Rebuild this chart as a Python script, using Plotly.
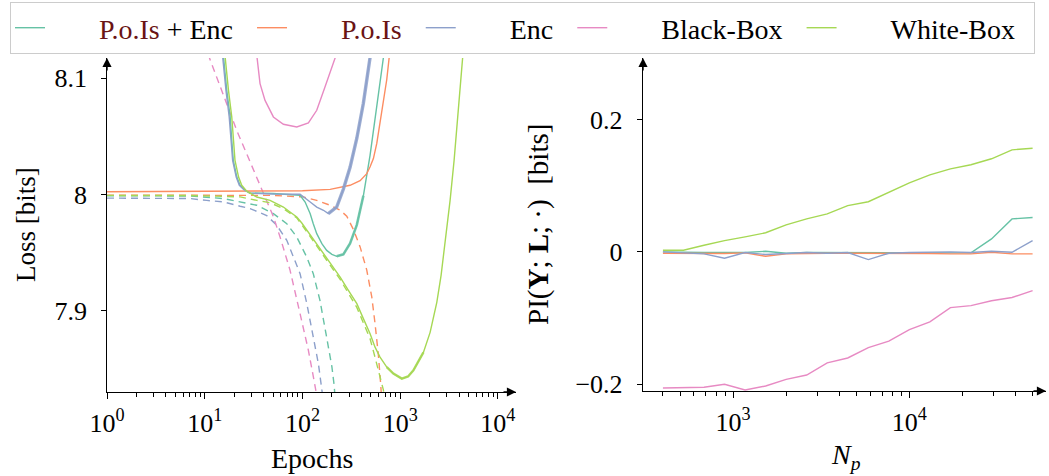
import plotly.graph_objects as go

W, H = 1049, 476
FONT = "Liberation Serif, serif"

TEAL = "#66c2a5"
ORANGE = "#fc8d62"
BLUE = "#8da0cb"
PINK = "#e78ac3"
GREEN = "#a6d854"
MAROON = "#6a1414"

SERIES_NAMES = [
    f'<span style="color:{MAROON}">P.o.Is</span> + Enc',
    f'<span style="color:{MAROON}">P.o.Is</span>',
    "Enc",
    "Black-Box",
    "White-Box",
]
SERIES_COLORS = [TEAL, ORANGE, BLUE, PINK, GREEN]

# ---- Left panel: loss curves (solid = test, dashed = train) ----
pois_enc_test_epochs = [14.3, 15.5, 16.8, 18.2, 18.9, 19.6, 21.3, 23.0, 25.9, 29.1, 50, 75,
                        94.5, 106.5, 120, 129, 140, 158, 177, 200, 224, 262, 307, 360, 420,
                        492, 576, 673, 729]
pois_enc_test_loss = [8.16, 8.12, 8.0897, 8.0668, 8.0467, 8.0295, 8.0151, 8.008, 8.0037,
                      8.0014, 8.001, 8.0003, 7.9994, 7.9936, 7.9836, 7.975, 7.9664, 7.9578,
                      7.952, 7.9486, 7.9469, 7.9486, 7.958, 7.974, 7.999, 8.034, 8.077, 8.118,
                      8.139]

pois_test_epochs = [1, 30, 100, 192, 307, 389, 455, 492, 532, 576, 622, 673, 729, 788]
pois_test_loss = [8.0025, 8.0028, 8.0033, 8.0045, 8.008, 8.012, 8.018, 8.024, 8.031, 8.044,
                  8.061, 8.081, 8.099, 8.125]

enc_test_epochs = [14.0, 15.2, 16.5, 17.8, 18.6, 19.3, 21.0, 22.6, 25.5, 29.1, 50, 94.5, 120,
                   140, 164, 184, 224, 262, 307, 360, 420, 492, 528]
enc_test_loss = [8.16, 8.12, 8.0897, 8.0668, 8.0467, 8.0295, 8.0151, 8.008, 8.0037, 8.0012,
                 8.0005, 8.0003, 7.9936, 7.9893, 7.9865, 7.9836, 7.9893, 8.0046, 8.0235,
                 8.0485, 8.0785, 8.1181, 8.137]

blackbox_test_epochs = [32, 34.1, 36.8, 41.4, 50.4, 63.8, 87.5, 115, 140, 170, 200, 221, 234]
blackbox_test_loss = [8.14, 8.12, 8.0955, 8.081, 8.0668, 8.0605, 8.0582, 8.0616, 8.0725,
                      8.0926, 8.11, 8.12, 8.135]

whitebox_test_epochs = [14.9, 16.1, 17.5, 18.9, 19.7, 20.4, 22.2, 23.9, 26.9, 30.3, 34.1, 46.6,
                        63.8, 74.6, 87.5, 98.4, 111, 134.6, 164, 200, 243, 295, 360, 420,
                        492, 553, 622, 729, 852, 1039, 1204, 1365, 1525, 1728, 2024, 2370,
                        2621, 2882, 3241, 3562, 3913, 4301, 4508]
whitebox_test_loss = [8.16, 8.12, 8.0897, 8.0668, 8.0467, 8.0295, 8.0151, 8.008, 8.003,
                      8.0005, 7.9979, 7.9951, 7.9893, 7.985, 7.9807, 7.9756, 7.9693, 7.9592,
                      7.9492, 7.9392, 7.9291, 7.9176, 7.9062, 7.8933, 7.8804, 7.8688, 7.8602,
                      7.8516, 7.846, 7.8417, 7.8436, 7.8488, 7.8557, 7.8643, 7.8815, 7.9073,
                      7.9306, 7.9581, 7.9951, 8.0295, 8.0725, 8.1138, 8.1328]

pois_enc_train_epochs = [1, 7.07, 15.5, 23, 34.1, 50.4, 69.1, 87.5, 111, 129, 151, 177, 200,
                         211, 218]
pois_enc_train_loss = [7.999, 7.9988, 7.9966, 7.9937, 7.9908, 7.9836, 7.975, 7.9635, 7.946,
                       7.932, 7.909, 7.877, 7.852, 7.836, 7.82]

pois_train_epochs = [1, 10, 50, 63.8, 102, 140, 192, 243, 284, 332, 389, 455, 512, 553, 598,
                     633, 650]
pois_train_loss = [7.9995, 7.9995, 7.9993, 7.9988, 7.998, 7.995, 7.9908, 7.9865, 7.9815,
                   7.970, 7.955, 7.935, 7.912, 7.889, 7.862, 7.836, 7.82]

enc_train_epochs = [1, 3.2, 7.07, 10.5, 15.5, 23, 29.1, 43.1, 54.6, 69.1, 80.7, 94.5, 111,
                    129, 145.5, 158, 165]
enc_train_loss = [7.997, 7.997, 7.9966, 7.995, 7.9937, 7.99, 7.988, 7.982, 7.9736, 7.9607,
                  7.946, 7.932, 7.906, 7.877, 7.8546, 7.832, 7.82]

blackbox_train_epochs = [8, 10.9, 13.3, 16.8, 21.3, 26.9, 34.1, 43.1, 50.4, 59, 74.6, 94.5,
                         115, 131.5, 145]
blackbox_train_loss = [8.15, 8.12, 8.101, 8.078, 8.055, 8.035, 8.015, 7.995, 7.981, 7.9635,
                       7.935, 7.8976, 7.866, 7.840, 7.82]

whitebox_train_epochs = [1, 7.07, 15.5, 23, 34.1, 46.6, 63.8, 87.5, 111, 164, 243, 360, 420,
                         492, 553, 622, 673, 700]
whitebox_train_loss = [7.9993, 7.9992, 7.9985, 7.998, 7.995, 7.993, 7.988, 7.98, 7.968, 7.948,
                       7.927, 7.903, 7.890, 7.876, 7.860, 7.843, 7.832, 7.82]

test_curves = [
    (pois_enc_test_epochs, pois_enc_test_loss),
    (pois_test_epochs, pois_test_loss),
    (enc_test_epochs, enc_test_loss),
    (blackbox_test_epochs, blackbox_test_loss),
    (whitebox_test_epochs, whitebox_test_loss),
]
train_curves = [
    (pois_enc_train_epochs, pois_enc_train_loss),
    (pois_train_epochs, pois_train_loss),
    (enc_train_epochs, enc_train_loss),
    (blackbox_train_epochs, blackbox_train_loss),
    (whitebox_train_epochs, whitebox_train_loss),
]
# stretches of the test curves where the epoch-to-epoch jitter thickens the line
# (series index, first point, last point, stroke width)
jitter_spans = [(0, 20, 24, 2.6), (2, 15, 21, 3.4), (4, 27, 33, 2.4)]

# ---- Right panel: PI versus number of samples ----
n_p = [400, 523, 684, 894, 1170, 1530, 2000, 2615, 3420, 4470, 5850, 7645, 10000, 13070,
       17090, 22350, 29230, 38220, 50000]
pi_pois_enc = [0.0, -0.001, -0.001, -0.001, -0.001, 0.001, -0.002, -0.001, -0.001, -0.001,
               -0.001, -0.001, -0.001, -0.001, -0.001, -0.0015, 0.0197, 0.050, 0.052]
pi_pois = [-0.002, -0.0025, -0.0025, -0.0025, -0.0015, -0.0066, -0.003, -0.002, -0.002, -0.002,
           -0.002, -0.002, -0.0015, -0.0025, -0.003, -0.003, -0.0005, -0.003, -0.003]
pi_enc = [0.0, -0.0015, -0.003, -0.0095, -0.001, -0.004, -0.002, -0.0008, -0.002, -0.001,
          -0.0116, -0.002, -0.001, 0.0, 0.0, -0.001, 0.001, -0.0005, 0.0172]
pi_blackbox = [-0.206, -0.206, -0.205, -0.2005, -0.209, -0.203, -0.193, -0.1864, -0.168,
               -0.1606, -0.145, -0.135, -0.1177, -0.106, -0.0843, -0.0813, -0.074, -0.069,
               -0.0586]
pi_whitebox = [0.0025, 0.0025, 0.010, 0.017, 0.0227, 0.029, 0.041, 0.050, 0.0576, 0.070, 0.076,
               0.090, 0.1045, 0.1167, 0.1258, 0.132, 0.141, 0.1545, 0.157]
pi_series = [pi_pois_enc, pi_pois, pi_enc, pi_blackbox, pi_whitebox]

# ---- Tick labels ----
epoch_ticks = [1, 10, 100, 1000, 10000]
epoch_ticktext = ["10<sup>0</sup>", "10<sup>1</sup>", "10<sup>2</sup>", "10<sup>3</sup>",
                  "10<sup>4</sup>"]
loss_ticks = [7.9, 8.0, 8.1]
loss_ticktext = ["7.9", "8", "8.1"]
np_ticks = [1000, 10000]
np_ticktext = ["10<sup>3</sup>", "10<sup>4</sup>"]
pi_ticks = [-0.2, 0.0, 0.2]
pi_ticktext = ["\u22120.2", "0", "0.2"]

fig = go.Figure()

LW = 1.4
for (ex, ey), color, name in zip(train_curves, SERIES_COLORS, SERIES_NAMES):
    fig.add_trace(go.Scatter(x=ex, y=ey, mode="lines", xaxis="x", yaxis="y",
                             line=dict(color=color, width=LW, dash="7px,5px"),
                             legendgroup=name, showlegend=False, hoverinfo="skip"))
for (ex, ey), color, name in zip(test_curves, SERIES_COLORS, SERIES_NAMES):
    fig.add_trace(go.Scatter(x=ex, y=ey, mode="lines", xaxis="x", yaxis="y",
                             line=dict(color=color, width=LW),
                             legendgroup=name, showlegend=False, hoverinfo="skip"))
for idx, i0, i1, lw in jitter_spans:
    ex, ey = test_curves[idx]
    fig.add_trace(go.Scatter(x=ex[i0:i1 + 1], y=ey[i0:i1 + 1], mode="lines",
                             xaxis="x", yaxis="y", opacity=0.85,
                             line=dict(color=SERIES_COLORS[idx], width=lw),
                             showlegend=False, hoverinfo="skip"))

# legend entries: wide gap between sample line and label
PAD_L = "\u00a0" * 7
PAD_R = "\u00a0" * 2
for vals, color, name in zip(pi_series, SERIES_COLORS, SERIES_NAMES):
    fig.add_trace(go.Scatter(x=n_p, y=vals, mode="lines", xaxis="x2", yaxis="y2",
                             line=dict(color=color, width=LW), name=PAD_L + name + PAD_R,
                             legendgroup=name, showlegend=True, hoverinfo="skip"))

tickfont = dict(family=FONT, size=26, color="black")

L_DOM_X = [107 / W, 516 / W]
L_DOM_Y = [1 - 392 / H, 1 - 58 / H]
R_DOM_X = [643 / W, 1046 / W]
R_DOM_Y = [1 - 391 / H, 1 - 58 / H]

L_XRANGE = [0, 4.185]
L_YRANGE = [7.8302, 8.1175]
R_XRANGE = [2.489, 4.775]
R_YRANGE = [-0.2106, 0.2936]

epoch_minor = [m * 10 ** k for k in range(4) for m in range(2, 10)]
np_minor = [m * 10 ** k for k in range(2, 5) for m in range(2, 10)
            if 10 ** R_XRANGE[0] < m * 10 ** k < 10 ** R_XRANGE[1]]

XLABEL_STANDOFF = 2


def base_axis(**kw):
    d = dict(showgrid=False, zeroline=False, showline=False, ticks="outside",
             tickcolor="black", tickwidth=1.1, tickfont=tickfont, linecolor="black",
             automargin=False)
    d.update(kw)
    return d


def minor_ticks(vals, side):
    return dict(tickmode="array", tickvals=vals, ticks=side, ticklen=3.5,
                tickcolor="black", tickwidth=1, showgrid=False)


fig.update_layout(
    width=W, height=H,
    margin=dict(l=0, r=0, t=0, b=0, autoexpand=False),
    paper_bgcolor="white", plot_bgcolor="white",
    font=dict(family=FONT, color="black"),
    showlegend=True,
    legend=dict(orientation="h", x=10 / W, y=1 - 2 / H, xanchor="left", yanchor="top",
                bgcolor="white", bordercolor="#cccccc", borderwidth=1,
                font=dict(family=FONT, size=28, color="black"),
                itemwidth=30, tracegroupgap=0),
    xaxis=base_axis(type="log", domain=L_DOM_X, range=L_XRANGE, anchor="y",
                    showline=True, linewidth=1.4,
                    tickmode="array", tickvals=epoch_ticks, ticktext=epoch_ticktext,
                    ticklen=6, ticklabelstandoff=XLABEL_STANDOFF,
                    minor=minor_ticks(epoch_minor, "outside")),
    xaxis3=base_axis(type="log", range=L_XRANGE, anchor="y", overlaying="x",
                     ticks="inside", showticklabels=False,
                     tickmode="array", tickvals=epoch_ticks, ticklen=6,
                     minor=minor_ticks(epoch_minor, "inside")),
    yaxis=base_axis(domain=L_DOM_Y, range=L_YRANGE, anchor="x", showline=True, linewidth=1.4,
                    tickmode="array", tickvals=loss_ticks, ticktext=loss_ticktext,
                    ticklen=4.5, ticklabelstandoff=9),
    yaxis3=base_axis(range=L_YRANGE, anchor="x", overlaying="y", ticks="inside",
                     showticklabels=False, tickmode="array", tickvals=loss_ticks, ticklen=4.5),
    xaxis2=base_axis(type="log", domain=R_DOM_X, range=R_XRANGE, anchor="y2",
                     showline=True, linewidth=1.4,
                     tickmode="array", tickvals=np_ticks, ticktext=np_ticktext,
                     ticklen=6, ticklabelstandoff=XLABEL_STANDOFF,
                     minor=minor_ticks(np_minor, "outside")),
    xaxis4=base_axis(type="log", range=R_XRANGE, anchor="y2", overlaying="x2",
                     ticks="inside", showticklabels=False,
                     tickmode="array", tickvals=np_ticks, ticklen=6,
                     minor=minor_ticks(np_minor, "inside")),
    yaxis2=base_axis(domain=R_DOM_Y, range=R_YRANGE, anchor="x2", showline=True, linewidth=1.4,
                     tickmode="array", tickvals=pi_ticks, ticktext=pi_ticktext,
                     ticklen=5, ticklabelstandoff=9),
    yaxis4=base_axis(range=R_YRANGE, anchor="x2", overlaying="y2", ticks="inside",
                     showticklabels=False, tickmode="array", tickvals=pi_ticks, ticklen=5),
)

title_font = dict(family=FONT, size=28, color="black")
annotations = [
    dict(text="Epochs", x=311.5 / W, y=1 - 458 / H, xref="paper", yref="paper",
         showarrow=False, font=title_font, xanchor="center", yanchor="middle"),
    dict(text="Loss [bits]", x=26 / W, y=1 - 225 / H, xref="paper", yref="paper",
         showarrow=False, font=dict(family=FONT, size=27, color="black"), textangle=-90,
         xanchor="center", yanchor="middle"),
    dict(text="<i>N</i><sub><i>p</i></sub>", x=846 / W, y=1 - 456 / H, xref="paper",
         yref="paper", showarrow=False, font=title_font, xanchor="center", yanchor="middle"),
    dict(text="PI(<b>Y</b>; <b>L</b>; \u00b7)  [bits]", x=538 / W, y=1 - 225 / H,
         xref="paper", yref="paper", showarrow=False,
         font=dict(family=FONT, size=29, color="black"), textangle=-90,
         xanchor="center", yanchor="middle"),
]
# axis arrowheads
for (xt, yt, ax, ay) in [
    (L_DOM_X[1], L_DOM_Y[0], -14, 0),
    (L_DOM_X[0], L_DOM_Y[1], 0, 14),
    (R_DOM_X[1], R_DOM_Y[0], -14, 0),
    (R_DOM_X[0], R_DOM_Y[1], 0, 14),
]:
    annotations.append(dict(text="", x=xt, y=yt, xref="paper", yref="paper", ax=ax, ay=ay,
                            showarrow=True, arrowhead=2, arrowsize=1.3, arrowwidth=1.4,
                            arrowcolor="black", standoff=0))
fig.update_layout(annotations=annotations)

fig.write_html("out.html")
